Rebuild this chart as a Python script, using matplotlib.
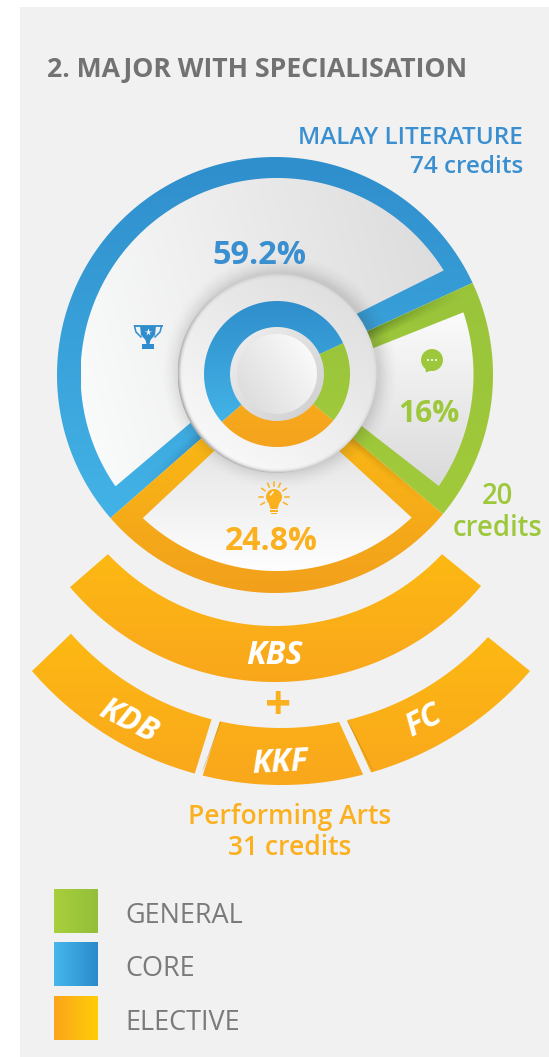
import numpy as np
import matplotlib
matplotlib.use("Agg")
import matplotlib.pyplot as plt
from matplotlib.path import Path
from matplotlib.patches import PathPatch, Circle, Polygon, Rectangle
from matplotlib.colors import to_rgb

# ---- data ----
categories = ["CORE", "ELECTIVE", "GENERAL"]
percent_labels = ["59.2%", "24.8%", "16%"]
span_degrees = [196.0, 99.4, 64.6]      # as drawn in the picture, from 25 deg going counter-clockwise
legend_labels = ["GENERAL", "CORE", "ELECTIVE"]
tier_one = ["KBS"]
tier_two = ["KDB", "KKF", "FC"]
title_text = "2. MAJOR WITH SPECIALISATION"

W, H = 549, 1057
plt.rcParams['font.family'] = ['Open Sans', 'DejaVu Sans']
fig = plt.figure(figsize=(W/100, H/100), dpi=100)
ax = fig.add_axes([0, 0, 1, 1])
ax.set_xlim(0, W); ax.set_ylim(H, 0); ax.axis('off')

RIM_C, R_OUT = (275, 375), 218
IN_C, R_IN = (277, 374.5), 196.5
APEX = np.array([276.0, 373.0])
HUB_C, R_HUB = (277, 373.5), 99.5
DON_C, R_D1, R_D0, R_BTN = (277, 374), 73, 47, 40
PX = 72/100
BG = '#F1F1F1'


def xy(r, a, c=RIM_C):
    a = np.radians(a)
    return np.column_stack([c[0] + r*np.cos(a), c[1] - r*np.sin(a)])


def poly_path(p):
    p = np.asarray(p)
    return Path(np.vstack([p, p[:1]]), [Path.MOVETO] + [Path.LINETO]*(len(p)-1) + [Path.CLOSEPOLY])


def grad(path, c0, c1, ang=90, z=2, box=None):
    """linear gradient c0 -> c1, direction ang (deg, screen, counter-clockwise), clipped to path"""
    if box is None:
        b = path.get_extents()
        box = (b.x0, b.y0, b.x1, b.y1)
    x0, y0, x1, y1 = box
    n = 200
    X, Y = np.meshgrid(np.linspace(x0, x1, n), np.linspace(y0, y1, n))
    dx, dy = np.cos(np.radians(ang)), -np.sin(np.radians(ang))
    t = X*dx + Y*dy
    t = (t - t.min())/(t.max() - t.min())
    im = np.stack([a + (b_ - a)*t for a, b_ in zip(to_rgb(c0), to_rgb(c1))], -1)
    art = ax.imshow(im, extent=(x0, x1, y1, y0), origin='upper', zorder=z, aspect='auto', interpolation='bilinear')
    art.set_clip_path(PathPatch(path, transform=ax.transData))
    return art


def alpha_img(box, alpha, color, z, clip=None):
    x0, y0, x1, y1 = box
    rgba = np.zeros(alpha.shape + (4,))
    rgba[..., :3] = to_rgb(color)
    rgba[..., 3] = alpha
    art = ax.imshow(rgba, extent=(x0, x1, y1, y0), origin='upper', zorder=z, aspect='auto', interpolation='bilinear')
    if clip is not None:
        art.set_clip_path(PathPatch(clip, transform=ax.transData))
    return art


def ring_wedge(a0, a1):
    return poly_path(np.vstack([APEX[None], xy(R_OUT, np.linspace(a0, a1, 200))]))


def annulus_wedge(r0, r1, a0, a1, c):
    t = np.linspace(a0, a1, 160)
    return poly_path(np.vstack([xy(r1, t, c), xy(r0, t[::-1], c)]))


def rim_sector(apex, p0, p1):
    """white sector: apex, and the rim arc from corner p0 to corner p1 (counter-clockwise)"""
    a0 = np.degrees(np.arctan2(IN_C[1]-p0[1], p0[0]-IN_C[0]))
    a1 = np.degrees(np.arctan2(IN_C[1]-p1[1], p1[0]-IN_C[0]))
    if a1 < a0:
        a1 += 360
    return poly_path(np.vstack([[apex], xy(R_IN, np.linspace(a0, a1, 160), IN_C)]))


def band_poly(c_in, r_in, c_out, r_out, x_l_in, x_r_in, x_l_out, x_r_out):
    xi = np.linspace(x_l_in, x_r_in, 120)
    yi = c_in[1] + np.sqrt(r_in**2 - (xi - c_in[0])**2)
    xo = np.linspace(x_r_out, x_l_out, 120)
    yo = c_out[1] + np.sqrt(r_out**2 - (xo - c_out[0])**2)
    return poly_path(np.vstack([np.column_stack([xi, yi]), np.column_stack([xo, yo])]))


# ---- panel ----
fig.patch.set_facecolor('white')
ax.add_patch(Rectangle((20, 7), 529, 1050, fc=BG, ec='none', zorder=0))

# ---- main ring ----
starts = 25 + np.concatenate([[0], np.cumsum(span_degrees)[:-1]])
ends = starts + np.array(span_degrees)
colors = {"CORE": ('#2F8ECC', '#47BBEC'), "GENERAL": ('#96C13A', '#A3CC3B'), "ELECTIVE": ('#FDC012', '#F2A01C')}
start_of = dict(zip(categories, starts))
end_of = dict(zip(categories, ends))
box = (RIM_C[0]-R_OUT, RIM_C[1]-R_OUT, RIM_C[0]+R_OUT, RIM_C[1]+R_OUT)
for cat in categories:
    c0, c1 = colors[cat]
    if cat == "ELECTIVE":
        grad(ring_wedge(start_of[cat], end_of[cat]), c0, c1, 270, z=2, box=(box[0], 373, box[2], box[3]))
    else:
        grad(ring_wedge(start_of[cat], end_of[cat]), c0, c1, 270, z=2, box=box)

# white sectors
grad(rim_sector((266, 359), (440.7, 272.3), (116, 486)), '#DCDBDB', '#FBFCFC', 195, z=3)
grad(rim_sector((299.4, 377.5), (437.3, 485), (458.3, 314)), '#FBFBFB', '#DBDADA', 270, z=3)
grad(rim_sector((276, 393), (145, 515.7), (407.7, 513.3)), '#E4E4E4', '#FFFFFF', 270, z=3, box=(130, 440, 420, 575))

# shadow along borders
n = 600
X, Y = np.meshgrid(np.linspace(box[0], box[2], n), np.linspace(box[1], box[3], n))


def border_shadow(angle, receiver, width, strength, color, reach):
    rim = xy(R_OUT, np.array([angle]))[0]
    d = (rim - APEX)/np.linalg.norm(rim - APEX)
    nrm = np.array([-d[1], d[0]])
    mid = (start_of[receiver] + end_of[receiver])/2
    probe = xy(R_OUT, np.array([mid]))[0] - APEX
    if probe @ nrm < 0:
        nrm = -nrm
    rx, ry = X-APEX[0], Y-APEX[1]
    along = rx*d[0] + ry*d[1]
    perp = rx*nrm[0] + ry*nrm[1]
    a = np.clip(1 - perp/width, 0, 1)*(perp >= 0)*np.clip(1 - (along-95)/reach, 0, 1)*(along > 0)
    alpha_img(box, a*strength, color, 4, ring_wedge(start_of[receiver], end_of[receiver]))


border_shadow(starts[0], "GENERAL", 11, .50, '#2C4A0C', 110)
border_shadow(ends[0], "CORE", 9, .22, '#0D2F55', 80)
border_shadow(end_of["ELECTIVE"], "ELECTIVE", 8, .32, '#7A5200', 100)

# hub soft shadow (falls towards upper right)
RR = np.hypot(X-(HUB_C[0]+3), Y-(HUB_C[1]-2))
a = np.clip(1 - (RR-R_HUB)/20, 0, 1)**1.8
alpha_img(box, a*.17, '#333333', 5, Path.circle(IN_C, R_IN))

# hub
hbox = (HUB_C[0]-R_HUB, HUB_C[1]-R_HUB, HUB_C[0]+R_HUB, HUB_C[1]+R_HUB)
grad(Path.circle(HUB_C, R_HUB), '#DCDBDB', '#FDFDFD', 235, z=6, box=hbox)
# rim shading: soft dark edge, strongest on the lower left, fading around the hub
hx, hy = np.meshgrid(np.linspace(hbox[0], hbox[2], 500), np.linspace(hbox[1], hbox[3], 500))
hr = np.hypot(hx-HUB_C[0], hy-HUB_C[1])
ha = np.arctan2(HUB_C[1]-hy, hx-HUB_C[0])
weight = np.clip(.5 + .5*np.cos(ha - np.radians(215)), 0, 1)**1.3
edge = np.clip(1 - (R_HUB-hr)/5, 0, 1)**2.2
alpha_img(hbox, edge*(.08 + .50*weight), '#6F6E6E', 7, Path.circle(HUB_C, R_HUB))

# inner donut
dbox = (DON_C[0]-R_D1, DON_C[1]-R_D1, DON_C[0]+R_D1, DON_C[1]+R_D1)
don_cols = {"CORE": ('#2F8ECC', '#47BBEC'), "GENERAL": ('#97C23B', '#A2CB3B'), "ELECTIVE": ('#FDB913', '#F5A31E')}
for cat in categories:
    c0, c1 = don_cols[cat]
    grad(annulus_wedge(R_D0-2, R_D1, start_of[cat], end_of[cat], DON_C), c0, c1, 270, z=8, box=dbox)
grad(Path.circle(DON_C, R_D0), '#F0F0F0', '#CFCECE', 315, z=9)
grad(Path.circle(DON_C, R_BTN), '#FFFFFF', '#D9D8D8', 215, z=10)

# ---- tiers ----
kbs = band_poly((275, 396), 230, (275, 413), 269, 108, 442, 70, 481)
grad(kbs, '#FDB913', '#F9A61C', 270, z=2)
tier2 = band_poly((281, 447), 281, (281, 456), 329, 71, 488, 32, 530)
grad(tier2, '#FDB913', '#F9A71C', 270, z=2)
# gaps between KDB / KKF / FC
for top, bot in [((211.5, 220.5), (193.5, 202)), ((338, 347), (364.5, 373.5))]:
    dirx = (bot[0]-top[0])/54
    pts = [(top[0]-dirx*8, 711), (top[1]-dirx*8, 711), (bot[1]+dirx*5, 783), (bot[0]+dirx*5, 783)]
    ax.add_patch(Polygon(pts, closed=True, fc=BG, ec='none', zorder=3))
ax.add_patch(Polygon([(220, 722), (220.8, 722), (204, 768), (202, 772)], closed=True, fc='#A9770F', ec='none', alpha=.55, zorder=3))
ax.add_patch(Polygon([(347, 721), (348, 721), (372, 768), (373.5, 772)], closed=True, fc='#A9770F', ec='none', alpha=.55, zorder=3))


# ---- text ----
def T(x, y, s, px, color, weight='semibold', ha='center', va='center', style='normal', rot=0, z=12):
    return ax.text(x, y, s, fontsize=px*PX, color=color, fontweight=weight, ha=ha, va=va,
                   style=style, rotation=rot, rotation_mode='anchor', zorder=z)


GRAY, BLUE, GREEN, ORANGE = '#727272', '#3A8FD0', '#9DC83C', '#FBB01F'
T(47, 70, title_text, 26.6, GRAY, 'bold', ha='left')
T(523, 138, "MALAY LITERATURE", 24.3, BLUE, ha='right')
T(523, 167, "74 credits", 24.3, BLUE, ha='right')
T(259, 256, percent_labels[0], 32.5, BLUE, 'bold')
T(428.5, 414, percent_labels[2], 30, GREEN, 'bold')
T(271, 541, percent_labels[1], 32, ORANGE, 'bold')
T(497, 497, "20", 27.5, GREEN)
T(497, 528, "credits", 27.5, GREEN)
T(274.5, 656, tier_one[0], 32, 'white', 'bold', style='italic')
T(128, 721, tier_two[0], 32, 'white', 'bold', style='italic', rot=-27)
T(280, 763, tier_two[1], 32, 'white', 'bold', style='italic', rot=3)
T(424, 721, tier_two[2], 32, 'white', 'bold', style='italic', rot=27)
T(278, 707, "+", 46, ORANGE, 'bold')
T(289.5, 817, "Performing Arts", 26.5, ORANGE)
T(289.5, 848, "31 credits", 26.5, ORANGE)

# ---- legend ----
for y0, lab, (c0, c1) in zip([889, 942, 996], legend_labels,
                             [('#A8CF3C', '#93BF39'), ('#45B8EC', '#2B8ACB'), ('#FBA41C', '#FFCE06')]):
    grad(poly_path([(54, y0), (98, y0), (98, y0+44), (54, y0+44)]), c0, c1, 0, z=2)
    T(125.5, y0+27, lab, 27, '#7A7A7A', 'normal', ha='left')

# ---- icons ----
tb = '#2F8CCD'
ax.add_patch(Polygon([(140, 326), (156, 326), (155, 335), (150.5, 340), (149.5, 344), (154, 344), (154, 349),
                      (142, 349), (142, 344), (146.5, 344), (145.5, 340), (141, 335)], closed=True, fc=tb, ec='none', zorder=12))
ax.plot([134.5, 136, 141], [326, 332, 337], color=tb, lw=1.1, zorder=12)
ax.plot([161.5, 160, 155], [326, 332, 337], color=tb, lw=1.1, zorder=12)
ax.plot([134.5, 161.5], [326, 326], color=tb, lw=1.3, zorder=12)
ax.plot([148], [332], marker='*', ms=5.5, mfc='white', mec='none', zorder=13)
cg = '#9DC83C'
ax.add_patch(Circle((432, 360), 11, fc=cg, ec='none', zorder=12))
ax.add_patch(Polygon([(425, 367), (432, 370), (426, 372.5)], closed=True, fc=cg, ec='none', zorder=12))
for dx in (-4, 0, 4):
    ax.add_patch(Circle((432+dx, 360), 1, fc='white', ec='none', zorder=13))
bo = '#FBB01F'
bx, by = 274, 497
ax.add_patch(Circle((bx, by), 8, fc=bo, ec='none', zorder=12))
ax.add_patch(Polygon([(bx-6, by+4), (bx+6, by+4), (bx+3.5, by+12), (bx-3.5, by+12)], closed=True, fc=bo, ec='none', zorder=12))
ax.add_patch(Rectangle((bx-4, by+13), 8, 1.6, fc=bo, ec='none', zorder=12))
ax.add_patch(Rectangle((bx-2.8, by+15.5), 5.6, 1.6, fc=bo, ec='none', zorder=12))
ax.plot([bx-3.5, bx-1], [by-2, by-5], color='white', lw=1, zorder=13)
for a in [-30, 0, 35, 65, 90, 115, 145, 180, 210]:
    p = xy(np.array([11, 15]), np.array([a, a]), (bx, by))
    ax.plot(p[:, 0], p[:, 1], color=bo, lw=1.1, zorder=12)

ax.set_xlim(0, W); ax.set_ylim(H, 0)
fig.savefig('out.png', dpi=100, facecolor='white')
